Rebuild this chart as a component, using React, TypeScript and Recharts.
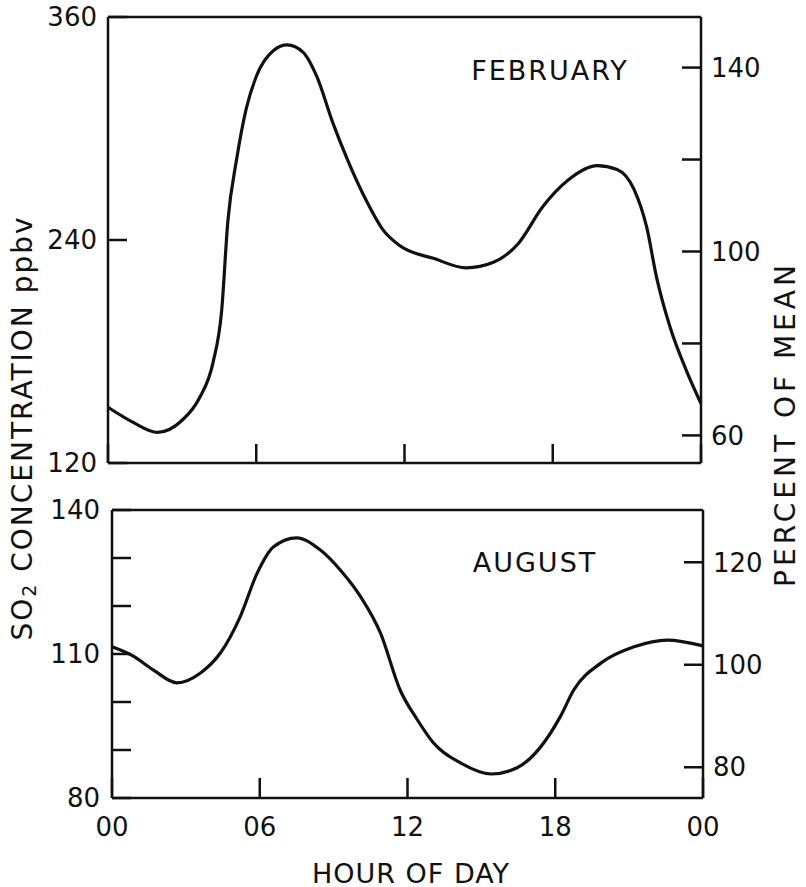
import React from 'react';
import { LineChart, Line, XAxis, YAxis } from 'recharts';

// February diurnal cycle (hour of day, SO2 ppbv)
const febHours = [0, 1, 2, 3, 3.7, 4.25, 4.6, 4.85, 5.2, 5.6, 6, 6.7, 7.25, 7.9, 8.45, 9.1, 9.7, 10.5, 11.1, 11.8, 13.2, 14.5, 15.6, 16.6, 17.6, 18.6, 19.8, 20.6, 21.3, 21.8, 22.2, 22.75, 23.4, 24];
const febPpbv = [150, 142, 136.5, 143, 155, 174, 202, 250, 283, 311, 328, 342, 345, 341, 328, 303, 283, 260, 246, 237, 230, 225, 228, 238, 258, 272, 280, 278, 267, 247, 220, 193, 170, 152];

// August diurnal cycle
const augHours = [0, 0.85, 1.67, 2.64, 3.58, 4.4, 5.2, 5.9, 6.55, 7.5, 8.45, 9.27, 10.1, 10.9, 11.7, 12.4, 13.05, 14.15, 15.4, 16.45, 17.4, 18.2, 18.75, 19.85, 21.2, 22.55, 24];
const augPpbv = [111.5, 109.6, 106.7, 104, 106, 110.2, 117.7, 126.9, 132.3, 134.2, 131.7, 127.5, 121.9, 114.4, 102.5, 96.3, 91.5, 87.3, 85, 86.3, 90.6, 96.9, 102.5, 108.1, 111.5, 112.9, 111.7];

// tick values
const hourTicks = [0, 6, 12, 18, 24];
const febLeftTicks = [120, 240, 360];
const febRightTicks = [60, 80, 100, 120, 140];
const augLeftTicks = [80, 90, 100, 110, 120, 130, 140];
const augRightTicks = [80, 100, 120];

const febData = febHours.map((h, i) => ({ hour: h, ppbv: febPpbv[i] }));
const augData = augHours.map((h, i) => ({ hour: h, ppbv: augPpbv[i] }));

const FONT = '"DejaVu Sans", sans-serif';
const INK = '#111';
const axisLine = { stroke: INK, strokeWidth: 2.5 };
const tickLine = { stroke: INK, strokeWidth: 2.5 };
const tickStyle = { fill: INK, fontSize: 26, fontFamily: FONT };
const textStyle = { fill: INK, fontSize: 27, fontFamily: FONT };

const App = () => {
  return (
    <div style={{ position: 'absolute', left: 0, top: 0, width: 806, height: 887, background: '#fff' }}>
      {/* February panel */}
      <div style={{ position: 'absolute', left: 0, top: 0 }}>
        <LineChart width={806} height={480} data={febData} margin={{ top: 16, right: 104, bottom: 16, left: 107 }}>
          <XAxis xAxisId="b" dataKey="hour" type="number" domain={[0, 24]} ticks={hourTicks} height={1}
            tickSize={-19} tickFormatter={() => ''} axisLine={axisLine} tickLine={tickLine} />
          <XAxis xAxisId="t" orientation="top" type="number" domain={[0, 24]} ticks={hourTicks} height={1}
            tick={false} tickLine={false} axisLine={axisLine} />
          <YAxis yAxisId="l" type="number" domain={[120, 360]} ticks={febLeftTicks} width={1}
            tickSize={-19} tickMargin={30} axisLine={axisLine} tickLine={tickLine} tick={tickStyle} />
          <YAxis yAxisId="r" orientation="right" type="number" domain={[54, 151]} allowDataOverflow ticks={febRightTicks} width={1}
            tickSize={-19} tickMargin={29} axisLine={axisLine} tickLine={tickLine} tick={tickStyle}
            tickFormatter={(v) => (v % 40 === 20 ? String(v) : '')} />
          <Line xAxisId="b" yAxisId="l" dataKey="ppbv" type="monotone" stroke={INK} strokeWidth={3.2}
            dot={false} isAnimationActive={false} />
        </LineChart>
      </div>

      {/* August panel */}
      <div style={{ position: 'absolute', left: 0, top: 480 }}>
        <LineChart width={806} height={407} data={augData} margin={{ top: 29, right: 102, bottom: 88, left: 111 }}>
          <XAxis xAxisId="b" dataKey="hour" type="number" domain={[0, 24]} ticks={hourTicks} height={1}
            tickSize={-20} tickMargin={40} axisLine={axisLine} tickLine={tickLine} tick={tickStyle}
            tickFormatter={(h) => String(h % 24).padStart(2, '0')} />
          <XAxis xAxisId="t" orientation="top" type="number" domain={[0, 24]} ticks={hourTicks} height={1}
            tick={false} tickLine={false} axisLine={axisLine} />
          <YAxis yAxisId="l" type="number" domain={[80, 140]} ticks={augLeftTicks} width={1}
            tickSize={-19} tickMargin={31} axisLine={axisLine} tickLine={tickLine} tick={tickStyle}
            tickFormatter={(v) => (v % 30 === 20 ? String(v) : '')} />
          <YAxis yAxisId="r" orientation="right" type="number" domain={[74, 130.2]} allowDataOverflow ticks={augRightTicks} width={1}
            tickSize={-19} tickMargin={29} axisLine={axisLine} tickLine={tickLine} tick={tickStyle} />
          <Line xAxisId="b" yAxisId="l" dataKey="ppbv" type="monotone" stroke={INK} strokeWidth={3.2}
            dot={false} isAnimationActive={false} />
        </LineChart>
      </div>

      {/* titles and panel labels */}
      <svg width={806} height={887} style={{ position: 'absolute', left: 0, top: 0, pointerEvents: 'none' }}>
        <text x={550} y={70} textAnchor="middle" dominantBaseline="central" letterSpacing={2} style={textStyle}>FEBRUARY</text>
        <text x={535} y={562} textAnchor="middle" dominantBaseline="central" letterSpacing={2} style={textStyle}>AUGUST</text>
        <text x={411} y={873} textAnchor="middle" dominantBaseline="central" letterSpacing={1} style={textStyle}>HOUR OF DAY</text>
        <text transform="translate(22,428) rotate(-90)" textAnchor="middle" dominantBaseline="central" letterSpacing={2} style={{ ...textStyle, fontSize: 28 }}>
          SO<tspan fontSize={19} dy={7}>2</tspan><tspan dy={-7}> CONCENTRATION  ppbv</tspan>
        </text>
        <text transform="translate(785,424) rotate(-90)" textAnchor="middle" dominantBaseline="central" letterSpacing={4} style={{ ...textStyle, fontSize: 28 }}>
          PERCENT OF MEAN
        </text>
      </svg>
    </div>
  );
};

export default App;
